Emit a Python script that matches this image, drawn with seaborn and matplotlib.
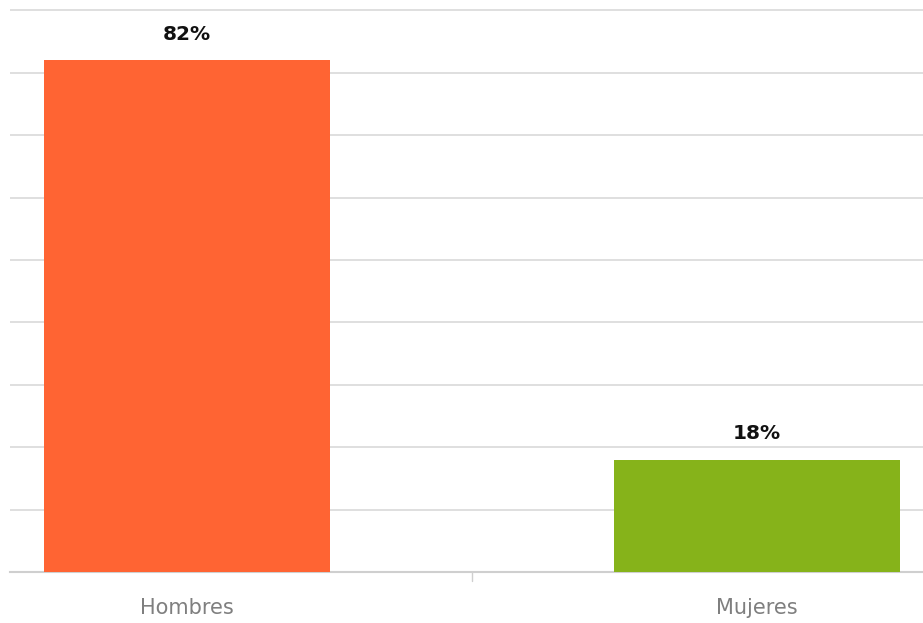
import matplotlib
matplotlib.use("Agg")
import matplotlib.pyplot as plt
import seaborn as sns
import pandas as pd

# ---------------------------
# Data
# ---------------------------
categories = ["Hombres", "Mujeres"]
values = [82, 18]
colors = ["#FF6433", "#86B31A"]
labels = ["82%", "18%"]

df = pd.DataFrame({"sexo": categories, "pct": values})

# ---------------------------
# Plot
# ---------------------------
sns.set_theme(style="white")
plt.rcParams["font.family"] = ["DejaVu Sans"]

fig = plt.figure(figsize=(9.23, 6.23), dpi=100)
ax = fig.add_axes([10 / 923, 51 / 623, 913 / 923, 567 / 623])

sns.barplot(data=df, x="sexo", y="pct", hue="sexo", palette=colors,
            saturation=1, width=0.502, legend=False, ax=ax, zorder=3, linewidth=0)

ax.set_ylim(0, 90.87)
ax.set_xlim(-0.3105, 1.291)
ax.set_yticks(range(0, 91, 10))
ax.yaxis.grid(True, color="#d9d9d9", linewidth=1.2, zorder=0)
ax.set_axisbelow(True)
ax.tick_params(axis="y", left=False, labelleft=False)
ax.set_xlabel("")
ax.set_ylabel("")

for s in ["top", "right", "left"]:
    ax.spines[s].set_visible(False)
ax.spines["bottom"].set_color("#cfcfcf")
ax.spines["bottom"].set_linewidth(1.5)

# tick mark between the categories, no ticks under bars
ax.set_xticks([0, 1])
ax.set_xticklabels(categories, color="#7f7f7f", fontsize=15)
ax.tick_params(axis="x", bottom=False, pad=13)
ax.axvline(0.5, ymin=-0.015, ymax=0, color="#cfcfcf", linewidth=1, clip_on=False)

for i, (v, lab) in enumerate(zip(values, labels)):
    ax.text(i, v + 4.2, lab, ha="center", va="center", fontsize=14.5,
            fontweight="bold", color="#111111")

fig.savefig("out.png", dpi=100)
